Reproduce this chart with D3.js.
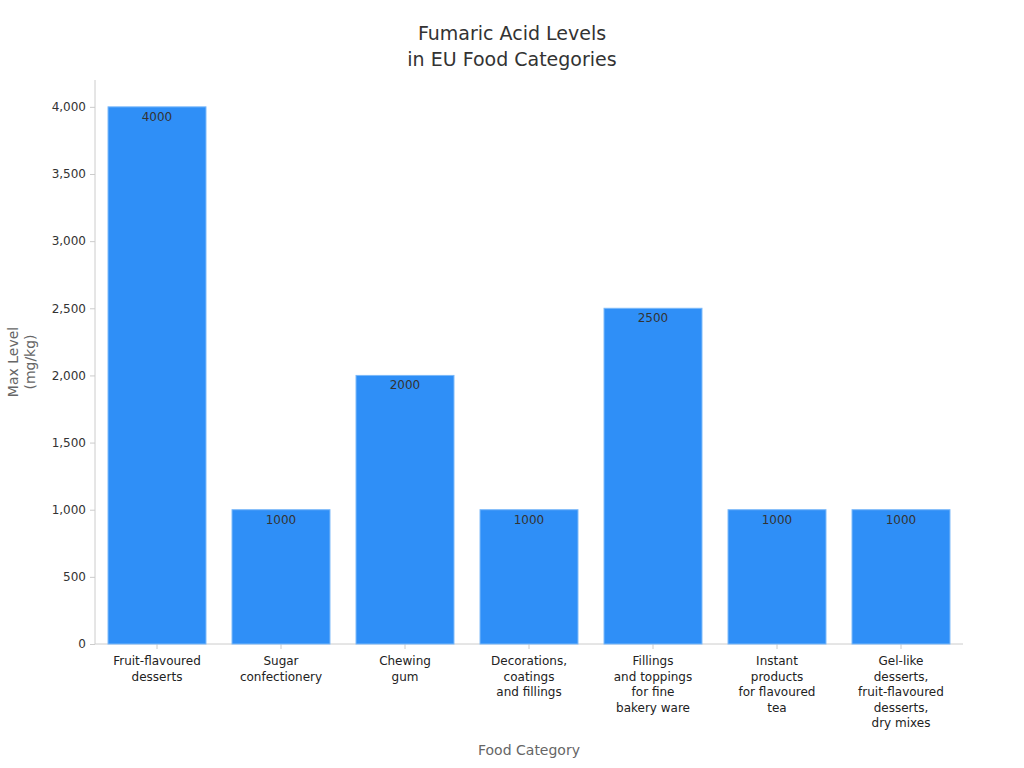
<!DOCTYPE html><html><head><meta charset="utf-8"><script src="https://cdn.jsdelivr.net/npm/d3@7"></script>
<style>body{margin:0;background:#fff}text{font-family:"DejaVu Sans",sans-serif}</style></head><body>
<svg id="c" width="1024" height="768"></svg>
<script>
const categories=[["Fruit-flavoured","desserts"],["Sugar","confectionery"],["Chewing","gum"],["Decorations,","coatings","and fillings"],["Fillings","and toppings","for fine","bakery ware"],["Instant","products","for flavoured","tea"],["Gel-like","desserts,","fruit-flavoured","desserts,","dry mixes"]];
const values=[4000,1000,2000,1000,2500,1000,1000];
const yTicks=[0,500,1000,1500,2000,2500,3000,3500,4000];
const svg=d3.select("#c");
const L=95,R=963,T=80,B=644;
const x=d3.scaleBand().domain(d3.range(values.length)).range([L,R]).paddingInner(0.21).paddingOuter(0.105);
const y=d3.scaleLinear().domain([0,4200]).range([B,T]);
svg.append("text").attr("x",512).attr("y",40).attr("text-anchor","middle").attr("font-size",19).attr("fill","#333").text("Fumaric Acid Levels");
svg.append("text").attr("x",512).attr("y",66).attr("text-anchor","middle").attr("font-size",19).attr("fill","#333").text("in EU Food Categories");
const ya=svg.append("g").attr("transform",`translate(${L},0)`).call(d3.axisLeft(y).tickValues(yTicks).tickSize(5).tickPadding(4));
ya.selectAll("text").attr("font-size",12).attr("fill","#333").style("font-family","DejaVu Sans");
ya.selectAll("line,path").attr("stroke","#ccc");
ya.select("path").attr("d",`M0,${T}V${B}`);
const xa=svg.append("g").attr("transform",`translate(0,${B})`).call(d3.axisBottom(x).tickFormat("").tickSize(5));
xa.selectAll("line,path").attr("stroke","#ccc");
xa.select("path").attr("d",`M${L},0H${R}`);
svg.selectAll("rect.b").data(values).join("rect").attr("x",(d,i)=>x(i)).attr("width",x.bandwidth()).attr("y",d=>y(d)).attr("height",d=>B-y(d)).attr("fill","#2f8ff7").attr("stroke","#7ab8f9").attr("stroke-width",1);
svg.selectAll("text.v").data(values).join("text").attr("x",(d,i)=>x(i)+x.bandwidth()/2).attr("y",d=>y(d)+14).attr("text-anchor","middle").attr("font-size",12).attr("fill","#333").text(d=>d);
categories.forEach((c,i)=>{c.forEach((l,j)=>svg.append("text").attr("x",x(i)+x.bandwidth()/2).attr("y",665+j*15.6).attr("text-anchor","middle").attr("font-size",12).attr("fill","#222").text(l));});
svg.append("text").attr("x",529).attr("y",755).attr("text-anchor","middle").attr("font-size",14).attr("fill","#666").text("Food Category");
const yl=svg.append("text").attr("transform","translate(18,362) rotate(-90)").attr("text-anchor","middle").attr("font-size",14).attr("fill","#666");
yl.append("tspan").attr("x",0).attr("dy",0).text("Max Level");
yl.append("tspan").attr("x",0).attr("dy",17).text("(mg/kg)");
</script></body></html>
